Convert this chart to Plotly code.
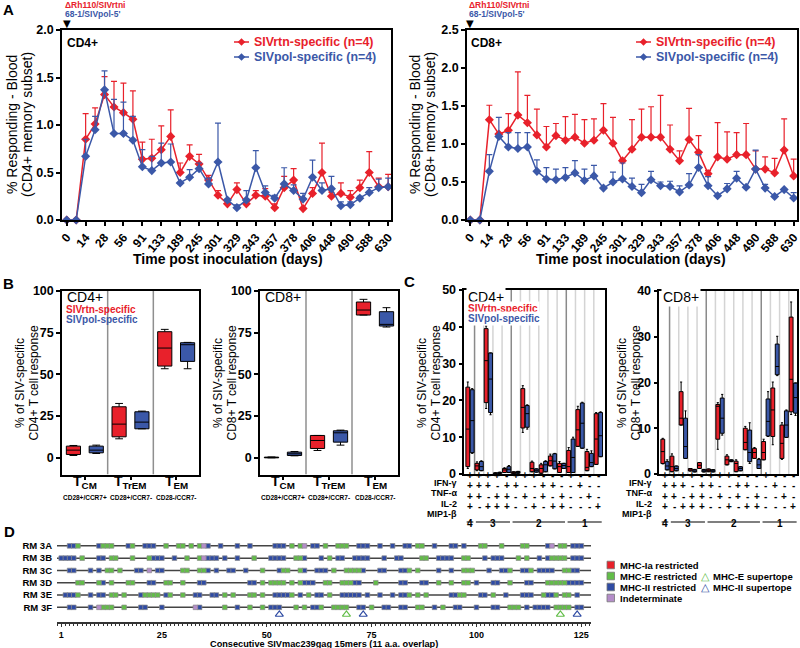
import plotly.graph_objects as go
import numpy as np

W, H = 800, 648
RED = '#E8212B'
BLUE = '#3B58A8'
GREEN = '#62BD48'
DBLUE = '#2F4BA3'
PURPLE = '#B48DC9'
FONT = 'Liberation Sans, Arial, Helvetica, sans-serif'

# ---------------- Panel A data ----------------
days = ['0', '7', '14', '21', '28', '42', '56', '70', '91', '112', '133', '161', '189', '217',
        '245', '273', '301', '315', '329', '336', '343', '350', '357', '364', '378', '392',
        '406', '427', '448', '469', '490', '539', '588', '609', '630']
day_labels = days[::2]

cd4_rtn = [0, 0, 0.85, 1.01, 1.32, 1.19, 1.13, 1.06, 0.64, 0.65, 0.74, 0.88, 0.50, 0.67, 0.59, 0.42,
           0.26, 0.17, 0.32, 0.17, 0.26, 0.25, 0.13, 0.34, 0.42, 0.12, 0.28, 0.50, 0.25, 0.28, 0.24,
           0.34, 0.50, 0.35, 0.35]
cd4_rtn_sem = [0, 0, 0.27, 0.17, 0.19, 0.27, 0.31, 0.30, 0.18, 0.20, 0.25, 0.28, 0.10, 0.12, 0.10, 0.05,
               0.05, 0.04, 0.07, 0.05, 0.05, 0.08, 0.04, 0.12, 0.12, 0, 0.06, 0.31, 0.04, 0.11, 0.07,
               0.08, 0.22, 0.09, 0.13]
cd4_pol = [0, 0, 0.67, 0.95, 1.37, 0.91, 0.91, 0.84, 0.56, 0.52, 0.60, 0.61, 0.39, 0.45, 0.54, 0.38,
           0.61, 0.21, 0.13, 0.21, 0.55, 0.29, 0.23, 0.38, 0.31, 0.22, 0.45, 0.31, 0.33, 0.15, 0.16,
           0.23, 0.29, 0.34, 0.35]
cd4_pol_sem = [0, 0, 0.18, 0.14, 0.20, 0.36, 0.33, 0.25, 0.18, 0.15, 0.21, 0.19, 0, 0.08, 0.06, 0.06,
               0.41, 0.01, 0.03, 0.10, 0.18, 0.07, 0.03, 0.17, 0.06, 0.06, 0.18, 0.08, 0.13, 0.04, 0.03,
               0.02, 0.05, 0.09, 0.09]
cd8_rtn = [0, 0, 1.32, 1.13, 1.18, 1.38, 1.28, 1.12, 0.96, 1.11, 1.05, 1.09, 1.01, 1.05, 1.18, 1.01,
           0.78, 0.93, 1.09, 1.09, 1.09, 0.93, 0.78, 1.06, 0.89, 0.61, 0.83, 0.80, 0.86, 0.86, 0.67,
           0.67, 0.62, 0.92, 0.58]
cd8_rtn_sem = [0, 0, 0.19, 0, 0.22, 0.57, 0.36, 0.34, 0.27, 0.16, 0.31, 0.30, 0.31, 0.28, 0.35, 0.34,
               0.02, 0.39, 0.37, 0.40, 0.55, 0.32, 0.13, 0.41, 0.22, 0.04, 0.45, 0.36, 0.29, 0.41, 0.24,
               0.16, 0.19, 0.41, 0.22]
cd8_pol = [0, 0, 0.64, 1.10, 0.96, 0.94, 0.96, 0.64, 0.54, 0.53, 0.56, 0.62, 0.52, 0.58, 0.42, 0.50,
           0.54, 0.44, 0.36, 0.53, 0.45, 0.44, 0.37, 0.46, 0.69, 0.45, 0.32, 0.41, 0.55, 0.43, 0.67,
           0.42, 0.31, 0.40, 0.29]
cd8_pol_sem = [0, 0, 0.22, 0.25, 0.19, 0.21, 0.19, 0.15, 0.15, 0.14, 0.13, 0.16, 0.15, 0.14, 0, 0.13,
               0.21, 0.11, 0.11, 0.11, 0.05, 0.07, 0.08, 0.15, 0.17, 0.12, 0, 0.07, 0.09, 0, 0.25,
               0.05, 0, 0, 0.07]

# ---------------- Panel B data (lower whisker, q1, median, q3, upper whisker) ----------------
subsets = ['T<sub>CM</sub>', 'T<sub>TrEM</sub>', 'T<sub>EM</sub>']
subset_markers = ['CD28+/CCR7+', 'CD28+/CCR7-', 'CD28-/CCR7-']
b_cd4_rtn = [(1.4, 2, 4.6, 7, 7.4), (11.4, 12.6, 20.2, 30.6, 32.6), (53.4, 55, 65.8, 75.6, 77)]
b_cd4_pol = [(2.6, 3, 4.6, 7, 7.6), (17.4, 17.4, 21.4, 27.6, 28), (53.4, 57.8, 67.8, 69, 69.2)]
b_cd8_rtn = [(0, 0, 0.2, 0.4, 0.5), (4.4, 5.6, 10.4, 13.4, 13.4), (85.6, 85.6, 88.6, 93.4, 95)]
b_cd8_pol = [(1.2, 1.4, 2.4, 3.4, 3.8), (7.6, 9.4, 15, 16.2, 16.6), (78.4, 79, 80, 87.6, 90)]

# ---------------- Panel C data ----------------
cytokines = ['IFN-γ', 'TNF-α', 'IL-2', 'MIP1-β']
combos = ['++++', '+++-', '++-+', '+-++', '-+++', '++--', '+-+-', '+--+', '-++-', '-+-+', '--++',
          '+---', '-+--', '--+-', '---+']
c_cd4_rtn = [(1.5, 2.0, 12.2, 23.6, 25.0), (0.9, 1.1, 2.2, 2.9, 3.3), (17.8, 19.4, 30.8, 39.5, 40.2),
             (0.05, 0.1, 0.2, 0.3, 0.35), (0.4, 0.4, 1.1, 1.5, 1.7), (0.1, 0.1, 0.35, 0.6, 0.6),
             (11.3, 12.5, 18.1, 23.2, 24.0), (0.6, 0.6, 1.5, 3.2, 3.5), (0.2, 0.2, 1.5, 2.5, 2.9),
             (2.2, 2.2, 3.6, 4.9, 5.4), (0.4, 0.4, 2.0, 2.9, 3.4), (0.4, 0.4, 2.0, 6.4, 7.2),
             (7.5, 7.5, 12.0, 17.5, 18.4), (0.9, 0.9, 1.8, 6.1, 6.7), (2.6, 2.6, 9.5, 16.4, 16.7)]
c_cd4_pol = [(5.6, 5.8, 14.5, 22.9, 23.2), (0.9, 0.9, 2.0, 3.4, 3.6), (16.1, 16.7, 25.8, 32.9, 32.9),
             (0.1, 0.15, 0.3, 0.45, 0.5), (0.4, 0.4, 1.3, 2.0, 2.3), (0.2, 0.2, 0.45, 0.7, 0.7),
             (12.2, 12.7, 16.4, 18.6, 18.8), (0.5, 0.5, 1.0, 1.4, 1.4), (0.6, 0.6, 2.5, 3.4, 3.6),
             (1.4, 1.4, 3.5, 5.5, 5.6), (1.5, 1.5, 2.3, 2.9, 2.9), (0.4, 0.4, 4.5, 9.5, 10.0),
             (7.0, 7.0, 13.8, 19.3, 19.5), (2.0, 2.0, 3.1, 5.6, 6.3), (4.7, 4.7, 10.4, 16.7, 16.9)]
c_cd8_rtn = [(2.2, 2.3, 4.9, 7.6, 7.8), (0.5, 0.5, 1.6, 3.9, 4.4), (10.7, 10.7, 12.2, 18.0, 20.1),
             (0.65, 0.65, 0.9, 1.2, 1.2), (1.2, 1.2, 1.9, 2.5, 2.5), (0.5, 0.5, 0.8, 1.1, 1.1),
             (5.4, 7.6, 14.8, 15.2, 15.6), (2.0, 2.0, 3.1, 3.9, 4.2), (0.5, 0.5, 2.3, 2.8, 3.1),
             (5.3, 5.3, 6.9, 10.0, 10.4), (3.4, 3.4, 4.7, 5.6, 5.8), (3.1, 3.1, 4.7, 7.1, 7.6),
             (6.4, 8.2, 14.0, 18.8, 20.1), (3.2, 3.4, 6.7, 10.7, 11.2), (13.0, 13.6, 20.7, 34.3, 37.6)]
c_cd8_pol = [(0.9, 0.9, 1.75, 2.7, 3.1), (0.7, 0.7, 1.2, 1.75, 1.75), (3.4, 3.4, 6.0, 12.2, 13.8),
             (0.45, 0.45, 0.65, 1.0, 1.0), (0.45, 0.45, 0.7, 1.0, 1.0), (0.45, 0.45, 0.7, 0.95, 0.95),
             (8.5, 8.9, 12.2, 16.6, 17.4), (2.7, 2.7, 2.9, 3.1, 3.1), (0.7, 0.7, 1.2, 1.6, 1.6),
             (2.3, 2.7, 4.7, 9.6, 11.2), (1.2, 1.2, 2.0, 3.2, 3.4), (8.2, 8.3, 11.5, 16.4, 18.0),
             (21.5, 21.7, 23.5, 28.4, 30.1), (8.0, 8.0, 10.7, 13.8, 14.0), (12.8, 13.3, 16.7, 19.9, 19.9)]

# ---------------- Panel D data (peptide numbers per restriction) ----------------
animals = ['RM 3A', 'RM 3B', 'RM 3C', 'RM 3D', 'RM 3E', 'RM 3F']
d_mhc2 = [
    [3, 4, 10, 17, 21, 22, 23, 36, 39, 43, 46, 52, 53, 54, 61, 62, 72, 73, 74, 77, 80, 83, 84, 90, 94, 95, 97, 117, 123, 124, 125],
    [1, 2, 3, 4, 10, 11, 23, 24, 25, 28, 36, 37, 38, 40, 43, 51, 52, 53, 54, 59, 63, 67, 68, 71, 72, 73, 74, 78, 81, 82, 91, 92, 93, 94, 102, 104, 105, 106, 115, 117, 123, 124, 125],
    [3, 4, 8, 10, 19, 20, 24, 25, 36, 38, 41, 42, 45, 53, 59, 62, 63, 64, 73, 77, 78, 82, 83, 91, 94, 103, 106, 107, 111, 112, 115, 116, 117, 118, 123, 124],
    [11, 22, 23, 34, 35, 46, 47, 59, 60, 61, 71, 72, 82, 83, 87, 88, 100, 104, 105, 112, 113, 122, 123, 124, 125],
    [2, 3, 4, 8, 10, 11, 20, 26, 33, 34, 37, 38, 52, 53, 54, 55, 58, 62, 63, 68, 69, 70, 71, 72, 74, 77, 80, 82, 83, 94, 95, 101, 102, 107, 111, 112, 113, 117, 118, 124],
    [3, 4, 8, 20, 21, 25, 34, 43, 51, 52, 53, 61, 62, 72, 73, 78, 79, 82, 83, 90, 95, 96, 100, 104, 105, 112, 114, 115, 116, 117, 124, 125],
]
d_mhce = [
    [5, 11, 12, 13, 18, 26, 29, 30, 32, 34, 56, 58, 64, 67, 68, 69, 86, 87, 101, 102, 106, 111, 112, 120, 121],
    [6, 13, 14, 18, 22, 31, 34, 47, 57, 58, 65, 87, 88, 97, 98, 110, 112, 118, 119, 120, 121],
    [12, 13, 15, 30, 31, 34, 35, 49, 54, 55, 58, 66, 69, 70, 71, 72, 84, 86, 97, 98, 99, 108, 113, 121, 122],
    [5, 6, 10, 13, 17, 18, 26, 27, 30, 49, 51, 52, 53, 54, 56, 58, 64, 65, 68, 69, 70, 76, 91, 94, 97, 98, 108, 117, 118, 119, 120, 121],
    [5, 13, 14, 16, 21, 22, 23, 24, 27, 30, 40, 42, 46, 47, 49, 56, 60, 65, 84, 86, 88, 96, 97, 104, 116, 119, 121, 122],
    [11, 12, 13, 16, 40, 46, 49, 57, 59, 63, 66, 67, 68, 69, 75, 86, 87, 92, 108, 109, 110, 119, 120, 121, 122],
]
d_indet = [[35, 59, 118], [35], [22], [], [], [10, 33]]
supertope_e = [69, 120]
supertope_ii = [53, 73, 124]
d_ticks = [1, 25, 50, 75, 100, 125]


# ---------------- helpers ----------------
def px(x):
    return x / W


def py(y):
    return 1 - y / H


def dom_x(a, b):
    return [a / W, b / W]


def dom_y(top, bottom):
    return [1 - bottom / H, 1 - top / H]


fig = go.Figure()
shapes = []
annotations = []


def ann(x, y, text, size=10, color='black', bold=False, xanchor='center', yanchor='middle',
        angle=0, bg=None):
    d = dict(x=px(x), y=py(y), text=text, xref='paper', yref='paper', showarrow=False,
             xanchor=xanchor, yanchor=yanchor, textangle=angle,
             font=dict(family=FONT, size=size, color=color, weight='bold' if bold else 'normal'))
    if bg:
        d['bgcolor'] = bg
    annotations.append(d)


# ---------------- Panel A ----------------
def add_tc(xa, ya, mean, sem, color):
    fig.add_trace(go.Scatter(
        x=days, y=mean, mode='lines+markers', xaxis=xa, yaxis=ya, showlegend=False,
        line=dict(color=color, width=1.5), marker=dict(symbol='diamond', size=7, color=color),
        error_y=dict(type='data', symmetric=False, array=sem, arrayminus=[0] * len(sem),
                     color=color, thickness=1.2, width=3),
        cliponaxis=False, hoverinfo='skip'))


add_tc('x', 'y', cd4_rtn, cd4_rtn_sem, RED)
add_tc('x', 'y', cd4_pol, cd4_pol_sem, BLUE)
add_tc('x2', 'y2', cd8_rtn, cd8_rtn_sem, RED)
add_tc('x2', 'y2', cd8_pol, cd8_pol_sem, BLUE)


# ---------------- Panel B ----------------
def add_boxes(xa, ya, pos, stats, color, width):
    lo, q1, med, q3, hi = [list(v) for v in zip(*stats)]
    fig.add_trace(go.Box(x=list(pos), q1=q1, median=med, q3=q3, lowerfence=lo, upperfence=hi,
                         width=width, fillcolor=color, line=dict(color='black', width=1),
                         whiskerwidth=0.55, xaxis=xa, yaxis=ya, showlegend=False,
                         hoverinfo='skip', orientation='v'))


b_idx = np.arange(len(subsets))
add_boxes('x3', 'y3', b_idx + 0.25, b_cd4_rtn, RED, 0.31)
add_boxes('x3', 'y3', b_idx + 0.75, b_cd4_pol, BLUE, 0.31)
add_boxes('x4', 'y4', b_idx + 0.25, b_cd8_rtn, RED, 0.31)
add_boxes('x4', 'y4', b_idx + 0.75, b_cd8_pol, BLUE, 0.31)

# ---------------- Panel C ----------------
c_idx = np.arange(len(combos))
add_boxes('x5', 'y5', c_idx - 0.24, c_cd4_rtn, RED, 0.42)
add_boxes('x5', 'y5', c_idx + 0.24, c_cd4_pol, BLUE, 0.42)
add_boxes('x6', 'y6', c_idx - 0.24, c_cd8_rtn, RED, 0.42)
add_boxes('x6', 'y6', c_idx + 0.24, c_cd8_pol, BLUE, 0.42)

# ---------------- Panel D ----------------
for r, name in enumerate(animals):
    shapes.append(dict(type='line', xref='x7', yref='y7', x0=0, x1=127.3, y0=r, y1=r,
                       line=dict(color='#444', width=1.5), layer='below'))
    for peps, col in ((d_mhc2[r], DBLUE), (d_mhce[r], GREEN), (d_indet[r], PURPLE)):
        if peps:
            fig.add_trace(go.Scatter(x=peps, y=[r] * len(peps), mode='markers', xaxis='x7', yaxis='y7',
                                     showlegend=False, hoverinfo='skip',
                                     marker=dict(symbol='square', size=4.6, color=col,
                                                 line=dict(color='#8c8c8c', width=0.7))))
tri_y = 5.58
fig.add_trace(go.Scatter(x=supertope_e, y=[tri_y] * len(supertope_e), mode='markers', xaxis='x7', yaxis='y7',
                         showlegend=False, hoverinfo='skip', cliponaxis=False,
                         marker=dict(symbol='triangle-up-open', size=7, color=GREEN, line=dict(width=1.2))))
fig.add_trace(go.Scatter(x=supertope_ii, y=[tri_y] * len(supertope_ii), mode='markers', xaxis='x7', yaxis='y7',
                         showlegend=False, hoverinfo='skip', cliponaxis=False,
                         marker=dict(symbol='triangle-up-open', size=7, color=DBLUE, line=dict(width=1.2))))

# ---------------- axes ----------------
tick_a = dict(family=FONT, size=12, color='black', weight='bold')
tick_b = dict(family=FONT, size=12.5, color='black', weight='bold')
axis_common = dict(showline=True, linecolor='black', linewidth=1.5, mirror=True, showgrid=False,
                   zeroline=False, ticks='outside', ticklen=4, tickwidth=1.5, tickcolor='black',
                   automargin=False)
frame_only = dict(showline=True, linecolor='black', linewidth=1.5, mirror=True, showgrid=False,
                  zeroline=False, ticks='', showticklabels=False, automargin=False)

layout_axes = dict(
    xaxis=dict(domain=dom_x(62, 391), anchor='y', type='category', range=[-0.5, 34.3],
               tickvals=day_labels, tickangle=-50, tickfont=tick_a, **axis_common),
    yaxis=dict(domain=dom_y(30, 220), anchor='x', range=[0, 2], dtick=0.5, tickformat='.1f',
               tickfont=tick_b, **axis_common),
    xaxis2=dict(domain=dom_x(467, 797), anchor='y2', type='category', range=[-0.35, 34.35],
                tickvals=day_labels, tickangle=-50, tickfont=tick_a, **axis_common),
    yaxis2=dict(domain=dom_y(30, 220), anchor='x2', range=[0, 2.5], dtick=0.5, tickformat='.1f',
                tickfont=tick_b, **axis_common),
    xaxis3=dict(domain=dom_x(62, 199), anchor='y3', range=[0, 3], tickvals=[0.5, 1.5, 2.5],
                showticklabels=False, **axis_common),
    yaxis3=dict(domain=dom_y(291, 474.5), anchor='x3', range=[-10, 100], tickvals=[0, 25, 50, 75, 100],
                tickfont=tick_b, **axis_common),
    xaxis4=dict(domain=dom_x(260, 398), anchor='y4', range=[0, 3], tickvals=[0.5, 1.5, 2.5],
                showticklabels=False, **axis_common),
    yaxis4=dict(domain=dom_y(291, 474.5), anchor='x4', range=[-10, 100], tickvals=[0, 25, 50, 75, 100],
                tickfont=tick_b, **axis_common),
    xaxis5=dict(domain=dom_x(464.3, 605), anchor='y5', range=[-0.62, 14.72], **frame_only),
    yaxis5=dict(domain=dom_y(290, 474), anchor='x5', range=[0, 50], dtick=10,
                tickfont=tick_b, **axis_common),
    xaxis6=dict(domain=dom_x(659.3, 797), anchor='y6', range=[-0.62, 14.4], **frame_only),
    yaxis6=dict(domain=dom_y(291, 474), anchor='x6', range=[0, 40], dtick=10,
                tickfont=tick_b, **axis_common),
    xaxis7=dict(domain=dom_x(57, 591), anchor='y7', range=[0, 127.3],
                tickvals=d_ticks, ticktext=[str(v) for v in d_ticks],
                tickfont=dict(family=FONT, size=9, color='black', weight='bold'),
                showline=True, linecolor='#333', linewidth=1.5, showgrid=False, zeroline=False,
                ticks='outside', ticklen=3.5, tickwidth=1, tickcolor='#333', automargin=False,
                minor=dict(dtick=1, tick0=0, ticks='outside', ticklen=2.5, tickwidth=0.8, tickcolor='#333')),
    yaxis7=dict(domain=dom_y(539.7, 621.5), anchor='x7', range=[6.15, -0.5],
                tickvals=list(range(len(animals))), ticktext=animals, ticklabelstandoff=4,
                tickfont=dict(family=FONT, size=9.5, color='black', weight='bold'),
                showline=False, showgrid=False, zeroline=False, ticks='', automargin=False),
)

# ---------------- decorations / text ----------------
ann(8, 10, 'A', 15, bold=True)
ann(8, 283, 'B', 15, bold=True)
ann(410, 282, 'C', 15, bold=True)
ann(9, 531, 'D', 15, bold=True)

# Panel A text
for x0, lab in ((63, 'CD4+'), (467, 'CD8+')):
    ann(x0 + 2, 43, lab, 12, bold=True, xanchor='left')
    ann(x0, 5, 'ΔRh110/SIVrtni', 8.5, RED, True, xanchor='left')
    ann(x0, 14, "68-1/SIVpol-5'", 8.5, BLUE, True, xanchor='left')
for xa in ('x', 'x2'):
    annotations.append(dict(x=days[0], y=py(30.5), xref=xa, yref='paper', text='▼', showarrow=False,
                            yanchor='bottom',
                            font=dict(family='DejaVu Sans', size=10, color='black')))


def legend_item(x0, y0, color, text):
    shapes.append(dict(type='line', xref='paper', yref='paper', x0=px(x0), x1=px(x0 + 15),
                       y0=py(y0), y1=py(y0), line=dict(color=color, width=1.5)))
    cx, r = x0 + 7.5, 3.8
    path = (f'M {px(cx - r)},{py(y0)} L {px(cx)},{py(y0 - r)} L {px(cx + r)},{py(y0)} '
            f'L {px(cx)},{py(y0 + r)} Z')
    shapes.append(dict(type='path', xref='paper', yref='paper', path=path, fillcolor=color,
                       line=dict(width=0)))
    ann(x0 + 18, y0, text, 12.4, color, True, xanchor='left')


legend_item(234, 42, RED, 'SIVrtn-specific (n=4)')
legend_item(234, 57, BLUE, 'SIVpol-specific (n=4)')
legend_item(636, 42, RED, 'SIVrtn-specific (n=4)')
legend_item(636, 57, BLUE, 'SIVpol-specific (n=4)')

ann(12, 125, '% Responding - Blood', 14, angle=-90)
ann(27, 125, '(CD4+ memory subset)', 14, angle=-90)
ann(415, 125, '% Responding - Blood', 14, angle=-90)
ann(430, 125, '(CD8+ memory subset)', 14, angle=-90)
ann(228, 259, 'Time post inoculation (days)', 14, bold=True)
ann(631, 259, 'Time post inoculation (days)', 14, bold=True)

# Panel B text
ann(65, 297, 'CD4+', 14, xanchor='left')
ann(64, 309, 'SIVrtn-specific', 10, RED, True, xanchor='left')
ann(64, 319, 'SIVpol-specific', 10, BLUE, True, xanchor='left')
ann(263, 297, 'CD8+', 14, xanchor='left')
for xa, ya in (('x3', 'y3'), ('x4', 'y4')):
    for g in range(1, len(subsets)):
        shapes.append(dict(type='line', xref=xa, yref=ya, x0=g, x1=g,
                           y0=-10, y1=100, line=dict(color='#8f8f8f', width=1.5), layer='below'))
    for i, (s, m) in enumerate(zip(subsets, subset_markers)):
        annotations.append(dict(x=i + 0.5, y=py(493), xref=xa, yref='paper', text=s, showarrow=False,
                                font=dict(family=FONT, size=14, color='black', weight='bold')))
        annotations.append(dict(x=i + 0.5, y=py(503), xref=xa, yref='paper', text=m, showarrow=False,
                                font=dict(family=FONT, size=6.5, color='black', weight='bold')))
ann(20, 383, '% of SIV-specific', 12, angle=-90)
ann(33.5, 383, 'CD4+ T cell response', 12, angle=-90)
ann(218, 383, '% of SIV-specific', 12, angle=-90)
ann(231.5, 383, 'CD8+ T cell response', 12, angle=-90)

# Panel C text
ann(422, 383, '% of SIV-specific', 12, angle=-90)
ann(435.5, 383, 'CD4+ T cell response', 12, angle=-90)
ann(622, 383, '% of SIV-specific', 12, angle=-90)
ann(635.5, 383, 'CD8+ T cell response', 12, angle=-90)

n_pos = [c.count('+') for c in combos]
for xa, ya, ytop, lab_x in (('x5', 'y5', 50, 459), ('x6', 'y6', 40, 654)):
    for k in range(len(combos) - 1):
        dark = n_pos[k] != n_pos[k + 1]
        shapes.append(dict(type='line', xref=xa, yref=ya, x0=k + 0.5, x1=k + 0.5, y0=0, y1=ytop,
                           line=dict(color='#8a8a8a' if dark else '#d4d4d4', width=1.5), layer='below'))
    row_y = [483, 493.3, 503.6, 514]
    for r, cyt in enumerate(cytokines):
        ann(lab_x, row_y[r], cyt, 9, bold=True, xanchor='right')
        for i, c in enumerate(combos):
            annotations.append(dict(x=i, y=py(row_y[r]), xref=xa, yref='paper', text=c[r],
                                    showarrow=False,
                                    font=dict(family=FONT, size=10, color='black', weight='bold')))
    for n in sorted(set(n_pos), reverse=True):
        cols = [i for i, v in enumerate(n_pos) if v == n]
        shapes.append(dict(type='line', xref=xa, yref='paper', x0=cols[0] - 0.36, x1=cols[-1] + 0.36,
                           y0=py(522), y1=py(522), line=dict(color='#555', width=1.3)))
        annotations.append(dict(x=(cols[0] + cols[-1]) / 2, y=py(530.5), xref=xa, yref='paper',
                                text=str(n), showarrow=False,
                                font=dict(family=FONT, size=10, color='black', weight='bold')))
ann(466, 296.5, 'CD4+', 14, xanchor='left', bg='white')
ann(466, 308.5, 'SIVrtn-specific', 10, RED, True, xanchor='left', bg='white')
ann(466, 318.5, 'SIVpol-specific', 10, BLUE, True, xanchor='left', bg='white')
ann(661, 296.5, 'CD8+', 14, xanchor='left', bg='white')

# Panel D text / legend
ann((57 + 591) / 2, 643.5, 'Consecutive SIVmac239gag 15mers (11 a.a. overlap)', 9.2, bold=True)
leg = [('MHC-Ia restricted', RED), ('MHC-E restricted', GREEN), ('MHC-II restricted', DBLUE),
       ('Indeterminate', PURPLE)]
for k, (t, col) in enumerate(leg):
    yc = 565 + 11 * k
    shapes.append(dict(type='rect', xref='paper', yref='paper', x0=px(607), x1=px(614.5),
                       y0=py(yc + 3.8), y1=py(yc - 3.8), fillcolor=col, line=dict(color='#777', width=0.8)))
    ann(618, yc, t, 9.5, bold=True, xanchor='left')
ann(705, 576, '△', 11, GREEN)
ann(711, 576, 'MHC-E supertope', 9.5, bold=True, xanchor='left')
ann(705, 587, '△', 11, DBLUE)
ann(711, 587, 'MHC-II supertope', 9.5, bold=True, xanchor='left')

fig.update_layout(
    template='none',
    width=W, height=H, autosize=False, margin=dict(l=0, r=0, t=0, b=0, pad=0),
    paper_bgcolor='white', plot_bgcolor='white', showlegend=False,
    font=dict(family=FONT, color='black'), boxmode='overlay',
    shapes=shapes, annotations=annotations, **layout_axes)

fig.write_html('out.html', config={'displayModeBar': False},
               post_script="document.body.style.margin='0px';document.body.style.overflow='hidden';")
